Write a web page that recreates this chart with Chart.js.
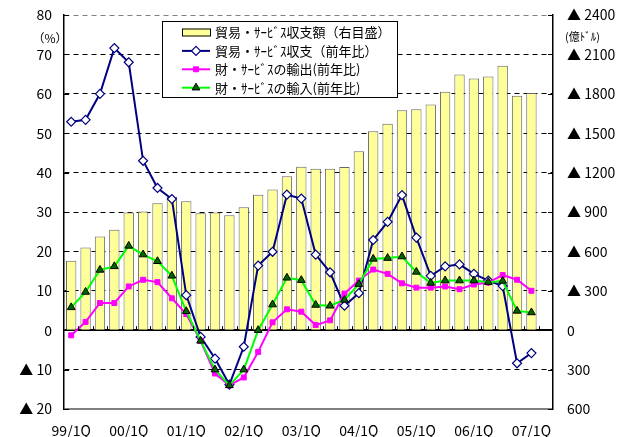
<!DOCTYPE html>
<html><head><meta charset="utf-8">
<script src="https://cdn.jsdelivr.net/npm/chart.js@4"></script>
<style>html,body{margin:0;padding:0;background:#fff}</style>
</head><body>
<canvas id="c" width="632" height="437"></canvas>
<script>
// Categories (quarters); last quarter is an empty slot as in the source chart
const categories = ['99/1Q','99/2Q','99/3Q','99/4Q','00/1Q','00/2Q','00/3Q','00/4Q',
  '01/1Q','01/2Q','01/3Q','01/4Q','02/1Q','02/2Q','02/3Q','02/4Q',
  '03/1Q','03/2Q','03/3Q','03/4Q','04/1Q','04/2Q','04/3Q','04/4Q',
  '05/1Q','05/2Q','05/3Q','05/4Q','06/1Q','06/2Q','06/3Q','06/4Q',
  '07/1Q','07/2Q'];
// Trade & services balance (deficit, 100 million USD) - right axis
const balanceAmount = [528,630,714,765,897,903,966,1017,981,891,897,876,936,1032,1071,1173,
  1245,1230,1230,1242,1362,1515,1572,1674,1683,1719,1815,1947,1917,1932,2013,1785,1806];
// Year-on-year change (%) - left axis
const balanceYoY = [52.9,53.4,60.0,71.6,68.0,43.0,36.1,33.3,8.9,-1.7,-7.2,-13.8,-4.2,16.4,19.9,34.4,
  33.4,19.2,14.7,6.2,9.4,22.9,27.5,34.3,23.5,13.8,16.2,16.7,14.3,12.6,11.2,-8.4,-5.8];
const exportsYoY = [-1.3,2.1,6.9,6.9,11.1,12.8,12.2,8.1,4.1,-2.7,-11.0,-14.0,-12.0,-5.5,2.0,5.3,
  4.7,1.3,2.5,9.3,12.6,15.4,14.3,11.9,10.8,10.8,11.1,10.4,11.6,12.1,14.0,12.8,10.0];
const importsYoY = [5.8,9.7,15.3,16.2,21.4,19.2,17.5,13.8,4.8,-2.7,-10.0,-14.0,-10.0,0.0,6.5,13.3,
  12.7,6.4,6.2,7.7,11.7,18.1,18.3,18.7,14.8,12.0,12.6,12.6,12.6,12.2,12.5,4.9,4.5];
// Axis settings / labels
const seriesLabels = ['貿易・ｻｰﾋﾞｽ収支額（右目盛）','貿易・ｻｰﾋﾞｽ収支（前年比）','財・ｻｰﾋﾞｽの輸出(前年比)','財・ｻｰﾋﾞｽの輸入(前年比)'];
const leftUnit = '（%）';
const rightUnit = '(億ﾄﾞﾙ)';
const leftRange = [-20, 80, 10];
const rightRange = [-600, 2400, 300];

const FONT = '"Noto Sans CJK JP", "Noto Sans", sans-serif';
Chart.defaults.font.family = FONT;
Chart.defaults.color = '#000';

const extras = {
  id: 'extras',
  afterDatasetsDraw(chart) {
    const ctx = chart.ctx, ca = chart.chartArea;
    const x = chart.scales.x, y = chart.scales.y;
    ctx.save();
    ctx.strokeStyle = '#000'; ctx.lineWidth = 1;
    // inward tick marks on both value axes
    for (let v = leftRange[0]; v <= leftRange[1]; v += leftRange[2]) {
      const py = Math.round(y.getPixelForValue(v)) + 0.5;
      ctx.beginPath(); ctx.moveTo(ca.left, py); ctx.lineTo(ca.left + 5, py); ctx.stroke();
      ctx.beginPath(); ctx.moveTo(ca.right - 5, py); ctx.lineTo(ca.right, py); ctx.stroke();
    }
    // category tick marks on zero line
    const zy = y.getPixelForValue(0);
    const step = (ca.right - ca.left) / categories.length;
    for (let i = 1; i < categories.length; i++) {
      const px = Math.round(x.getPixelForValue(i) - step / 2) + 0.5;
      ctx.beginPath(); ctx.moveTo(px, zy); ctx.lineTo(px, zy - 4); ctx.stroke();
    }
    ctx.restore();
  },
  afterDraw(chart) {
    const ctx = chart.ctx, ca = chart.chartArea;
    ctx.save();
    // unit labels
    ctx.fillStyle = '#000';
    ctx.font = '12px ' + FONT;
    ctx.textAlign = 'center'; ctx.textBaseline = 'middle';
    ctx.fillText(leftUnit, ca.left - 14, 38);
    ctx.font = '11px ' + FONT;
    ctx.textAlign = 'left';
    ctx.fillText(rightUnit, ca.right + 12, 37);
    // legend
    const bx = ca.left + 98, by = 21, bw = 235, bh = 76;
    ctx.fillStyle = '#fff';
    ctx.fillRect(bx, by, bw, bh);
    ctx.strokeStyle = '#000'; ctx.lineWidth = 1;
    ctx.strokeRect(bx + 0.5, by + 0.5, bw, bh);
    const ds = chart.data.datasets;
    const order = [0, 1, 2, 3];
    order.forEach((di, r) => {
      const d = ds[di];
      const cy = by + 11.5 + r * 18.4;
      const sx = bx + 20, ex = bx + 48;
      if (d.type === 'bar') {
        ctx.fillStyle = d.backgroundColor; ctx.strokeStyle = '#000';
        ctx.fillRect(sx, cy - 4, ex - sx, 8);
        ctx.strokeRect(sx + 0.5, cy - 3.5, ex - sx, 7);
      } else {
        ctx.strokeStyle = d.borderColor; ctx.lineWidth = 2;
        ctx.beginPath(); ctx.moveTo(sx, cy); ctx.lineTo(ex, cy); ctx.stroke();
        ctx.fillStyle = d.pointBackgroundColor; ctx.strokeStyle = d.pointBorderColor;
        ctx.lineWidth = d.pointBorderWidth;
        Chart.helpers.drawPoint(ctx, {pointStyle: d.pointStyle, radius: d.pointRadius, rotation: 0, borderWidth: d.pointBorderWidth}, (sx + ex) / 2, cy);
      }
      ctx.fillStyle = '#000';
      ctx.font = '13px ' + FONT;
      ctx.textAlign = 'left'; ctx.textBaseline = 'middle';
      ctx.fillText(d.label, ex + 5, cy);
    });
    ctx.restore();
  }
};

const fitY = (w) => (s) => { s.width = w; s.paddingTop = 0; s.paddingBottom = 0; };

new Chart(document.getElementById('c'), {
  data: {
    labels: categories,
    datasets: [
      { type: 'bar', label: seriesLabels[0], data: balanceAmount, yAxisID: 'y2',
        backgroundColor: '#FFFF99', borderColor: '#666', borderWidth: 1,
        barPercentage: 0.72, categoryPercentage: 1, order: 4 },
      { type: 'line', label: seriesLabels[1], data: balanceYoY, yAxisID: 'y',
        borderColor: '#000080', borderWidth: 2, tension: 0,
        pointStyle: 'rectRot', pointRadius: 4.5, pointBackgroundColor: '#fff',
        pointBorderColor: '#000080', pointBorderWidth: 1.2, order: 3 },
      { type: 'line', label: seriesLabels[2], data: exportsYoY, yAxisID: 'y',
        borderColor: '#FF00FF', borderWidth: 2, tension: 0,
        pointStyle: 'rect', pointRadius: 3.5, pointBackgroundColor: '#FF00FF',
        pointBorderColor: '#FF00FF', pointBorderWidth: 1, order: 2 },
      { type: 'line', label: seriesLabels[3], data: importsYoY, yAxisID: 'y',
        borderColor: '#00FF00', borderWidth: 2, tension: 0,
        pointStyle: 'triangle', pointRadius: 4.5, pointBackgroundColor: '#006400',
        pointBorderColor: '#000', pointBorderWidth: 1, order: 1 }
    ]
  },
  options: {
    responsive: false, devicePixelRatio: 1, animation: false,
    layout: { padding: { top: 15, bottom: 0, left: 0, right: 0 } },
    plugins: { legend: { display: false }, tooltip: { enabled: false } },
    scales: {
      x: {
        type: 'category', offset: true,
        grid: { display: false, drawTicks: false },
        border: { display: false },
        ticks: { autoSkip: false, maxRotation: 0, padding: 13, font: { size: 14 },
          callback: (v, i) => (i % 4 === 0 ? categories[i] : '') },
        afterFit: s => { s.height = 28; s.paddingLeft = 0; s.paddingRight = 0; }
      },
      y: {
        position: 'left', min: leftRange[0], max: leftRange[1],
        ticks: { stepSize: leftRange[2], padding: 12, font: { size: 14 },
          callback: v => (v < 0 ? '▲ ' + (-v) : String(v)) },
        grid: { drawTicks: false,
          color: c => (c.tick && (c.tick.value === 80 || c.tick.value === -20)) ? '#808080' : '#000',
          lineWidth: c => (c.tick && (c.tick.value === 0 || c.tick.value === -20)) ? 2 : 1 },
        border: { display: true, color: '#000', width: 1.5,
          dash: c => (c.tick && (c.tick.value === 0 || c.tick.value === -20)) ? [] : [5, 4] },
        afterFit: fitY(64)
      },
      y2: {
        position: 'right', min: rightRange[0], max: rightRange[1],
        ticks: { stepSize: rightRange[2], padding: 14, font: { size: 14 },
          callback: v => (v > 0 ? '▲ ' + v : (v < 0 ? String(-v) : '0')) },
        grid: { drawOnChartArea: false, drawTicks: false },
        border: { display: true, color: '#000', width: 1.5 },
        afterFit: fitY(79)
      }
    }
  },
  plugins: [extras]
});
</script>
</body></html>
